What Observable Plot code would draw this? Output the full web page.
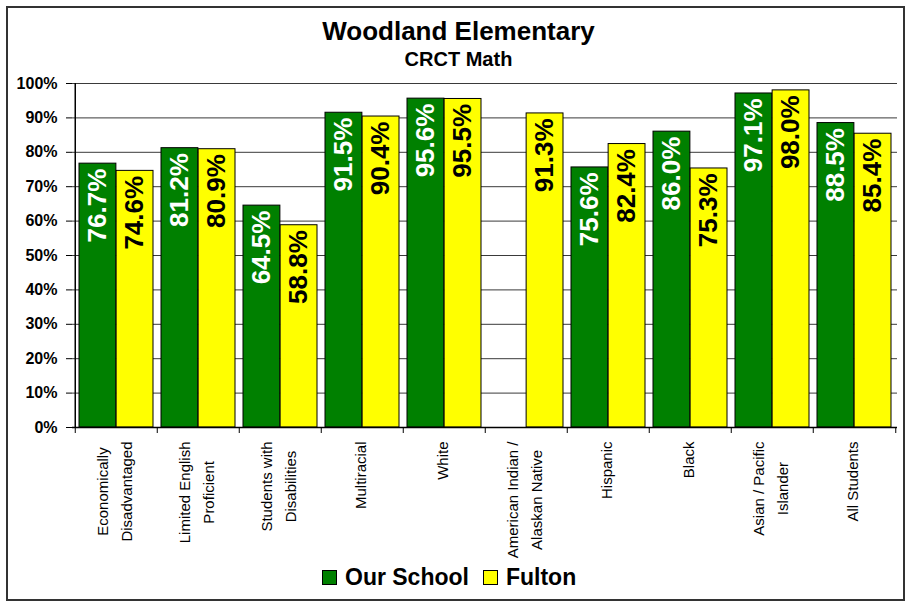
<!DOCTYPE html>
<html>
<head>
<meta charset="utf-8">
<script src="https://cdn.jsdelivr.net/npm/d3@7"></script>
<script src="https://cdn.jsdelivr.net/npm/@observablehq/plot@0.6"></script>
<style>
  html, body { margin: 0; padding: 0; background: #fff; }
  body { width: 909px; height: 603px; position: relative; overflow: hidden; font-family: "Liberation Sans", Arial, sans-serif; }
  #frame { position: absolute; left: 6px; top: 6px; width: 899px; height: 595px; box-sizing: border-box; border: 2px solid #333; z-index: 2; pointer-events: none; }
  .title { position: absolute; left: 4px; width: 909px; text-align: center; font-weight: bold; line-height: 1; color: #000; }
  #t1 { top: 18px; font-size: 26px; }
  #t2 { top: 49px; font-size: 20px; }
  #chart { position: absolute; left: 0; top: 70px; }
  #legend { position: absolute; left: 322px; top: 566px; display: flex; align-items: center; font-weight: bold; font-size: 23px; line-height: 1; }
  .sw { width: 13px; height: 13px; border: 1px solid #000; display: inline-block; }
</style>
</head>
<body>
<div id="frame"></div>
<div class="title" id="t1">Woodland Elementary</div>
<div class="title" id="t2">CRCT Math</div>
<div id="chart"></div>
<div id="legend">
  <span class="sw" style="background:#008000"></span><span style="margin-left:8px">Our School</span>
  <span class="sw" style="background:#ffff00;margin-left:14px"></span><span style="margin-left:8px">Fulton</span>
</div>
<script>
const categories = ["Economically Disadvantaged", "Limited English Proficient", "Students with Disabilities", "Multiracial", "White", "American Indian / Alaskan Native", "Hispanic", "Black", "Asian / Pacific Islander", "All Students"];
const catLabels = ["Economically\nDisadvantaged", "Limited English\nProficient", "Students with\nDisabilities", "Multiracial", "White", "American Indian /\nAlaskan Native", "Hispanic", "Black", "Asian / Pacific\nIslander", "All Students"];
const ourSchool = [76.7, 81.2, 64.5, 91.5, 95.6, null, 75.6, 86.0, 97.1, 88.5];
const fulton = [74.6, 80.9, 58.8, 90.4, 95.5, 91.3, 82.4, 75.3, 98.0, 85.4];
const yTicks = [0, 10, 20, 30, 40, 50, 60, 70, 80, 90, 100];

const W = 909, H = 490, mL = 72, mR = 12, mT = 13, mB = 133;
const step = (W - mL - mR) / categories.length;
const bw = step * 0.9;
const half = bw / 2;
const frameH = H - mT - mB;
const pxPerUnit = frameH / 100;
const catFontSize = 15;

const school = categories.map((c, i) => ({cat: c, v: ourSchool[i]})).filter(d => d.v != null);
const county = categories.map((c, i) => ({cat: c, v: fulton[i]})).filter(d => d.v != null);
const font = "Liberation Sans, Arial, sans-serif";

// measure longest line of each category label so lines can be centred and top-aligned
const ctx = document.createElement("canvas").getContext("2d");
ctx.font = `${catFontSize}px "Liberation Sans", Arial, sans-serif`;
const catRows = categories.map((c, i) => {
  const w = d3.max(catLabels[i].split("\n"), s => ctx.measureText(s).width);
  return {cat: c, label: catLabels[i], w};
});

const chart = Plot.plot({
  width: W, height: H,
  marginLeft: mL, marginRight: mR, marginTop: mT, marginBottom: mB,
  style: {background: "none", fontFamily: font, overflow: "visible", maxWidth: "none"},
  x: {domain: categories, paddingInner: 0.1, paddingOuter: 0.05, axis: null},
  y: {domain: [0, 100], axis: null},
  marks: [
    Plot.ruleY(yTicks, {stroke: "#3a3a3a", strokeWidth: 1}),
    Plot.barY(school, {x: "cat", y: "v", fill: "#008000", stroke: "#000", strokeWidth: 1, insetRight: half}),
    Plot.barY(county, {x: "cat", y: "v", fill: "#ffff00", stroke: "#000", strokeWidth: 1, insetLeft: half}),
    Plot.text(school, {x: "cat", y: "v", text: d => d.v.toFixed(1) + "%", rotate: -90, textAnchor: "end", lineAnchor: "middle", dx: -half / 2, dy: 5, fill: "#fff", fontSize: 26, fontWeight: "bold"}),
    Plot.text(county, {x: "cat", y: "v", text: d => d.v.toFixed(1) + "%", rotate: -90, textAnchor: "end", lineAnchor: "middle", dx: half / 2, dy: 5, fill: "#000", fontSize: 26, fontWeight: "bold"}),
    Plot.ruleY([0], {stroke: "#000", strokeWidth: 1.5}),
    Plot.ruleX([categories[0]], {x: d => d, dx: -step / 2, stroke: "#000", strokeWidth: 1.5}),
    Plot.ruleX(categories, {x: d => d, dx: -step / 2, insetTop: frameH, insetBottom: -6, stroke: "#000"}),
    Plot.ruleX([categories[categories.length - 1]], {x: d => d, dx: step / 2, insetTop: frameH, insetBottom: -6, stroke: "#000"}),
    Plot.axisY(yTicks, {tickFormat: d => d + "%", tickSize: 6, tickPadding: 9, fontSize: 16, fontWeight: "bold", fill: "#000", stroke: "#000", label: null}),
    Plot.text(catRows, {x: "cat", y: d => -(14 + d.w / 2) / pxPerUnit, text: "label", rotate: -90, textAnchor: "middle", lineAnchor: "middle", lineHeight: 1.55, dx: -4, fontSize: catFontSize, fill: "#000"})
  ]
});
document.getElementById("chart").appendChild(chart);
</script>
</body>
</html>
